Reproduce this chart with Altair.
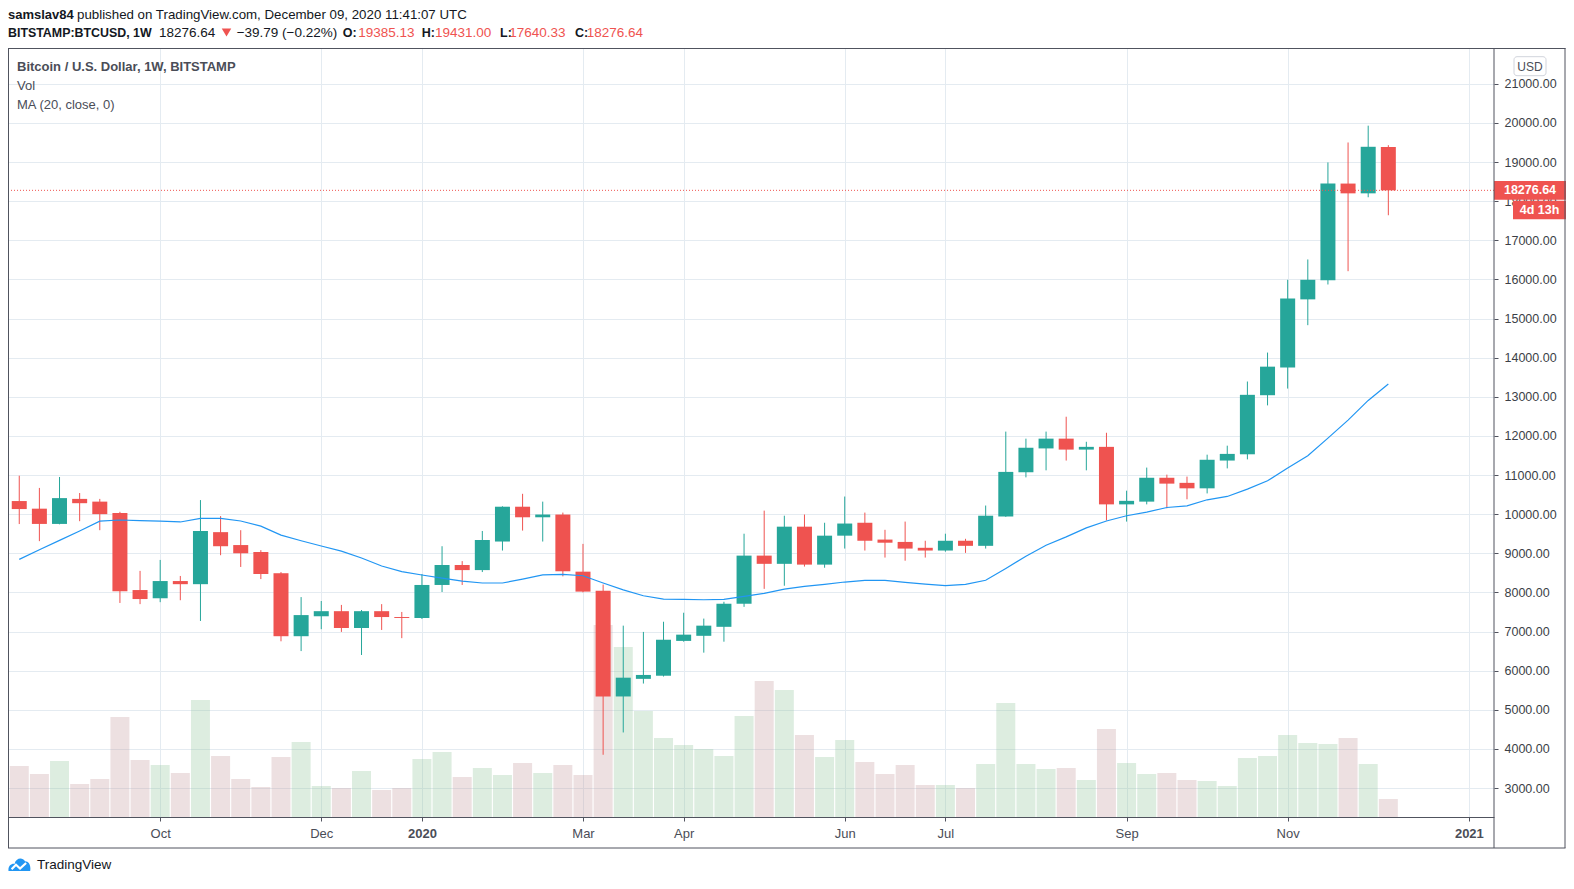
import json
import altair as alt
import pandas as pd

FONT = "Liberation Sans"
UP = "#26a69a"
DOWN = "#ef5350"
GRID = "#e4ebf1"
AX = "#50535e"
TXT = "#131722"

# ---------------- data (weekly BITSTAMP:BTCUSD) ----------------
start_date = "2019-08-19"
n_weeks = 69

opens = [10335, 10140, 9750, 10390, 10320, 10030, 8060, 7850, 8290, 8210,
         9540, 9210, 9030, 8490, 6880, 7390, 7520, 7090, 7520, 7370,
         7345, 8190, 8700, 8570, 9300, 10190, 9920, 9990, 8530, 8040,
         5340, 5790, 5870, 6760, 6890, 7120, 7710, 8940, 8730, 9680,
         8710, 9450, 9780, 9350, 9290, 9140, 9070, 9320, 9190, 9940,
         11070, 11680, 11930, 11650, 11720, 10250, 10320, 10930, 10800, 10660,
         11370, 11530, 13040, 13750, 15490, 15980, 18450, 18200, 19385.13]
highs = [10983, 10670, 10950, 10540, 10390, 10060, 8550, 8830, 8420, 10360,
         9950, 9590, 9080, 8520, 7880, 7780, 7680, 7550, 7700, 7500,
         8470, 9180, 8800, 9570, 10200, 10520, 10320, 10040, 9240, 8200,
         7150, 6990, 7250, 7480, 7330, 7760, 9500, 10090, 9960, 9990,
         9780, 10450, 10040, 9600, 9810, 9320, 9500, 9370, 10220, 12110,
         11930, 12110, 12490, 11850, 12080, 10600, 11190, 11010, 10960, 11520,
         11750, 13390, 14130, 15990, 16510, 18990, 19500, 19930, 19431.00]
lows = [9747, 9310, 9740, 9820, 9590, 7730, 7700, 7750, 7800, 7270,
        8950, 8650, 8340, 6750, 6500, 7060, 6990, 6400, 7040, 6830,
        7320, 8010, 8190, 8520, 9070, 9580, 9300, 8410, 8000, 3850,
        4420, 5670, 5850, 6740, 6460, 6740, 7630, 8090, 8170, 8660,
        8630, 9120, 9070, 8890, 8810, 8890, 9040, 9010, 9120, 9930,
        10940, 11120, 11370, 11120, 9840, 9810, 10250, 10150, 10380, 10530,
        11170, 11400, 12780, 13210, 14830, 15870, 16210, 18100, 17640.33]
closes = [10130, 9750, 10410, 10280, 10000, 8030, 7830, 8290, 8210, 9570,
          9180, 9000, 8470, 6880, 7420, 7520, 7090, 7520, 7370, 7345,
          8190, 8700, 8570, 9340, 10190, 9920, 9990, 8540, 8020, 5340,
          5820, 5890, 6790, 6920, 7150, 7710, 8940, 8730, 9680, 8710,
          9450, 9760, 9320, 9270, 9120, 9070, 9320, 9190, 9960, 11080,
          11700, 11930, 11650, 11720, 10250, 10340, 10930, 10780, 10660, 11390,
          11540, 13050, 13770, 15510, 15990, 18450, 18200, 19390, 18276.64]
ma20 = [8843, 9090, 9330, 9570, 9820, 9850, 9835, 9820, 9800, 9890,
        9890, 9825, 9695, 9465, 9320, 9185, 9055, 8880, 8675, 8530,
        8445, 8365, 8290, 8240, 8240, 8340, 8450, 8460, 8425, 8240,
        8065, 7915, 7830, 7820, 7812, 7820, 7897, 7975, 8085, 8155,
        8205, 8265, 8305, 8305, 8255, 8210, 8175, 8205, 8310, 8610,
        8925, 9205, 9420, 9650, 9825, 9960, 10050, 10170, 10213, 10367,
        10452, 10640, 10853, 11177, 11492, 11944, 12404, 12907, 13325]
volumes = [25.5, 21.5, 28, 16.5, 19, 50, 28.5, 26, 22, 58.5,
           30.5, 19, 15, 30, 37.5, 15.5, 14.5, 23, 13.5, 14.5,
           29, 32.5, 20, 24.5, 21, 27, 22, 26, 21, 96,
           85, 53, 39.5, 36, 34, 30.5, 50.5, 68, 63.5, 41,
           30, 38.5, 27.5, 21.5, 26, 16, 16, 14.5, 26.5, 57,
           26.5, 24, 24.5, 18.5, 44, 27, 21.5, 22, 18.5, 18,
           15.5, 29.5, 30.5, 41, 37, 36.5, 39.5, 26.5, 9]

tick_dates = ["2019-10-07", "2019-12-02", "2020-01-06", "2020-03-02", "2020-04-06",
              "2020-06-01", "2020-07-06", "2020-09-07", "2020-11-02", "2021-01-04"]
tick_labels = ["Oct", "Dec", "2020", "Mar", "Apr", "Jun", "Jul", "Sep", "Nov", "2021"]
price_ticks = list(range(3000, 22000, 1000))

last_price = closes[-1]
time_left = "4d 13h"

# ---------------- frames ----------------
dates = pd.date_range(start_date, periods=n_weeks, freq="7D").strftime("%Y-%m-%d")
df = pd.DataFrame({"date": dates, "open": opens, "high": highs, "low": lows,
                   "close": closes, "ma": ma20, "vol": volumes})
last = pd.DataFrame({"p": [last_price]})
one = pd.DataFrame({"k": [0]})

def ms(d):
    return int(pd.Timestamp(d, tz="UTC").value // 10**6)

tick_ms = [ms(d) for d in tick_dates]
x_lo = ms(start_date) - int(52.2 * 3600 * 1000)
x_hi = ms("2021-01-11")

W, H = 1486, 769

label_expr = f"{json.dumps(tick_labels)}[indexof({json.dumps(tick_ms)}, time(datum.value))]"
xaxis = alt.Axis(values=tick_ms, labelExpr=label_expr, title=None, labelFont=FONT,
                 labelFontSize=13, labelColor="#4a4d57", tickSize=4, tickColor=AX,
                 domainColor=AX, domainWidth=1, grid=True, gridColor=GRID,
                 labelPadding=6, labelFlush=False, labelOverlap=False,
                 labelFontWeight={"condition": {"test": "utcmonth(datum.value) == 0", "value": "bold"},
                                  "value": "normal"})
xscale = alt.Scale(type="utc", domain=[x_lo, x_hi], nice=False)
X = alt.X("date:T", scale=xscale, axis=xaxis)

yscale = alt.Scale(domain=[2259, 21915], nice=False, zero=False)
yaxis = alt.Axis(orient="right", values=price_ticks, format=".2f", title=None,
                 labelFont=FONT, labelFontSize=12.5, labelColor="#3c3f47", tickSize=4,
                 tickColor=AX, labelPadding=6, domain=False, grid=True, gridColor=GRID,
                 labelFlush=False, labelOverlap=False)

def Y(field):
    return alt.Y(f"{field}:Q", scale=yscale, axis=yaxis)

cond = alt.condition("datum.close >= datum.open", alt.value(UP), alt.value(DOWN))
vcond = alt.condition("datum.close >= datum.open", alt.value("#8ec398"), alt.value("#c3989b"))

volume = alt.Chart(df).mark_bar(size=19, opacity=0.3).encode(
    x=X,
    y=alt.Y("vol:Q", scale=alt.Scale(domain=[0, H * 0.5], nice=False, zero=True), axis=None),
    color=vcond,
)

wicks = alt.Chart(df).mark_rule(strokeWidth=1).encode(
    x=X, y=Y("low"), y2=alt.Y2("high"), color=cond)
bodies = alt.Chart(df).mark_bar(size=15).encode(
    x=X, y=Y("open"), y2=alt.Y2("close"), color=cond)
ma_line = alt.Chart(df).mark_line(color="#2196f3", strokeWidth=1.2).encode(
    x=X, y=Y("ma"))
price_line = alt.Chart(last).mark_rule(color=DOWN, strokeDash=[1, 2], strokeWidth=1).encode(
    y=Y("p"), x=alt.value(0), x2=alt.value(W))
price_box = alt.Chart(last).transform_calculate(
    top="datum.p + 238", bot="datum.p - 238").mark_rect(color=DOWN).encode(
    x=alt.value(W), x2=alt.value(W + 72), y=Y("top"), y2=alt.Y2("bot"))
price_txt = alt.Chart(last).mark_text(color="white", fontSize=12.5, fontWeight="bold",
                                      align="center", baseline="middle", font=FONT).encode(
    x=alt.value(W + 36), y=Y("p"), text=alt.Text("p:Q", format=".2f"))
time_box = alt.Chart(last).transform_calculate(
    top="datum.p - 266", bot="datum.p - 741").mark_rect(color=DOWN).encode(
    x=alt.value(W + 19), x2=alt.value(W + 72), y=Y("top"), y2=alt.Y2("bot"))
time_txt = alt.Chart(last).mark_text(text=time_left, color="white", fontSize=12.5,
                                     fontWeight="bold", align="center", baseline="middle",
                                     font=FONT, dy=19.7).encode(
    x=alt.value(W + 45.5), y=Y("p"))

price_layer = alt.layer(wicks, bodies, ma_line, price_line, price_box, price_txt,
                        time_box, time_txt)


def txt(s, x, y, size=13, weight="normal", color=TXT, align="left"):
    return alt.Chart(one).mark_text(text=s, align=align, baseline="middle", fontSize=size,
                                    fontWeight=weight, color=color, font=FONT).encode(
        x=alt.value(x), y=alt.value(y))


def rule(x, x2, y, y2, color=AX):
    return alt.Chart(one).mark_rule(color=color, strokeWidth=1).encode(
        x=alt.value(x), x2=alt.value(x2), y=alt.value(y), y2=alt.value(y2))


deco = [
    # header
    txt("samslav84", 0, -33, weight="bold"),
    txt("published on TradingView.com, December 09, 2020 11:41:07 UTC", 69, -33, size=13.3),
    txt("BITSTAMP:BTCUSD, 1W", 0, -15, size=12.4, weight="bold"),
    txt("18276.64", 151, -15, size=13.5),
    alt.Chart(one).mark_point(shape="triangle-down", filled=True, size=90, color=DOWN,
                              opacity=1).encode(x=alt.value(218.5), y=alt.value(-15.5)),
    txt("\u221239.79 (\u22120.22%)", 228.7, -15, size=13.5),
    txt("O:", 334.7, -15, size=12.5, weight="bold"),
    txt("19385.13", 350.3, -15, size=13.5, color=DOWN),
    txt("H:", 413.7, -15, size=12.5, weight="bold"),
    txt("19431.00", 427, -15, size=13.5, color=DOWN),
    txt("L:", 492, -15, size=12.5, weight="bold"),
    txt("17640.33", 501.3, -15, size=13.5, color=DOWN),
    txt("C:", 567, -15, size=12.5, weight="bold"),
    txt("18276.64", 578.7, -15, size=13.5, color=DOWN),
    # pane legend
    txt("Bitcoin / U.S. Dollar, 1W, BITSTAMP", 9, 19, weight="bold", color="#4a4d57"),
    txt("Vol", 9, 38, color="#4a4d57"),
    txt("MA (20, close, 0)", 9, 57, color="#4a4d57"),
    # USD badge
    alt.Chart(one).mark_rect(fill="white", stroke="#d1d4dc", strokeWidth=1, cornerRadius=3).encode(
        x=alt.value(W + 20), x2=alt.value(W + 52), y=alt.value(8.7), y2=alt.value(27.7)),
    txt("USD", W + 36, 18.5, size=12, color="#4a4d57", align="center"),
    # frame
    rule(0.5, 0.5, 0, 800),
    rule(0, W + 71.5, 0.5, 0.5),
    rule(W + 71, W + 71, 0, 800),
    rule(0, W + 71.5, 800, 800),
    rule(W, W, 0, 800),
    # TradingView logo
    alt.Chart(one).mark_point(
        shape="M-1,0.55 C-1.05,0.1 -0.75,-0.15 -0.45,-0.1 C-0.35,-0.62 0.25,-0.75 0.5,-0.35 C0.88,-0.35 1.05,0.05 0.97,0.55 Z",
        filled=True, size=484, color="#2196f3", opacity=1).encode(
        x=alt.value(11.5), y=alt.value(817)),
    alt.Chart(one).mark_point(
        shape="M-0.72,0.38 L-0.32,-0.02 L0.05,0.32 L0.6,-0.18",
        filled=False, size=484, color="white", strokeWidth=2.2, opacity=1).encode(
        x=alt.value(11.5), y=alt.value(817)),
    txt("TradingView", 29, 817, size=13.5),
]

chart = alt.layer(volume, price_layer, *deco).resolve_scale(y="independent").properties(
    width=W, height=H,
    autosize=alt.AutoSizeParams(type="none"),
    padding={"left": 0, "top": 40, "right": 72, "bottom": 56},
    background="white",
).configure_view(stroke=None)

chart.save("out.html", embed_options={"renderer": "svg", "actions": False})
